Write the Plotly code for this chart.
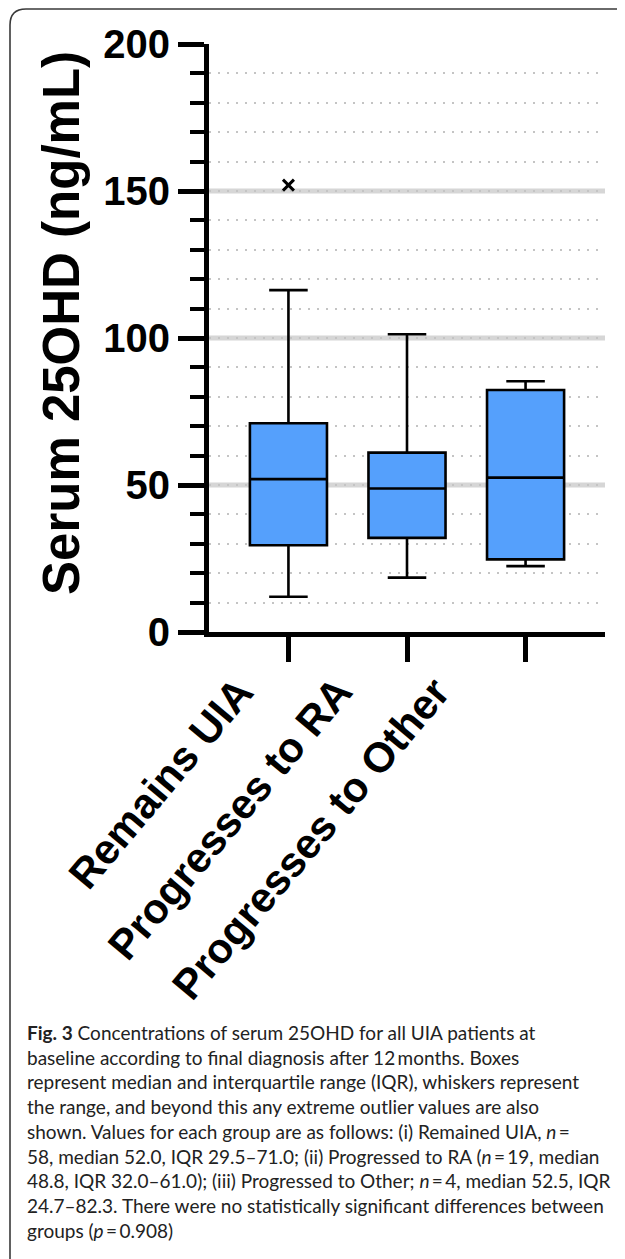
import plotly.graph_objects as go

# ---- data ----
categories = ["Remains UIA", "Progresses to RA", "Progresses to Other"]
q1_vals = [29.5, 32.0, 24.7]
median_vals = [52.0, 48.8, 52.5]
q3_vals = [71.0, 61.0, 82.3]
low_vals = [12.0, 18.5, 22.4]
high_vals = [116.3, 101.3, 85.3]
outlier_cat = ["Remains UIA"]
outlier_vals = [152.0]
major_ticks = [0, 50, 100, 150, 200]
major_grid = [50, 100, 150]

caption_lines = [
    "<b>Fig. 3</b> Concentrations of serum 25OHD for all UIA patients at",
    "baseline according to final diagnosis after 12\u2009months. Boxes",
    "represent median and interquartile range (IQR), whiskers represent",
    "the range, and beyond this any extreme outlier values are also",
    "shown. Values for each group are as follows: (i) Remained UIA, <i>n</i>\u2009=",
    "58, median 52.0, IQR 29.5\u201371.0; (ii) Progressed to RA (<i>n</i>\u2009=\u200919, median",
    "48.8, IQR 32.0\u201361.0); (iii) Progressed to Other; <i>n</i>\u2009=\u20094, median 52.5, IQR",
    "24.7\u201382.3. There were no statistically significant differences between",
    "groups (<i>p</i>\u2009=\u20090.908)",
]

# ---- layout geometry ----
# The page body has an 8px margin, so the figure starts at screen (8, 8).
OFF = 8
W, H = 625 - OFF, 1259 - OFF
# plot area in screen pixels
SL, SR, ST, SB = 209, 605, 44, 632
L, R, T, B = SL - OFF, SR - OFF, ST - OFF, SB - OFF


def px(x):
    """screen x pixel -> paper x"""
    return (x - OFF - L) / (R - L)


def py(y):
    """screen y pixel -> paper y"""
    return (B - (y - OFF)) / (B - T)


fig = go.Figure()

fig.add_trace(go.Box(
    x=categories,
    q1=q1_vals,
    median=median_vals,
    q3=q3_vals,
    lowerfence=low_vals,
    upperfence=high_vals,
    fillcolor="#55A0FC",
    line=dict(color="black", width=2.6),
    width=0.65,
    whiskerwidth=0.5,
    boxpoints=False,
    showlegend=False,
    hoverinfo="skip",
))

fig.add_trace(go.Scatter(
    x=outlier_cat,
    y=outlier_vals,
    mode="markers",
    marker=dict(symbol="x-thin", size=11, color="black",
                line=dict(color="black", width=3)),
    showlegend=False,
    hoverinfo="skip",
))

shapes = []
for g in major_grid:
    shapes.append(dict(type="line", xref="paper", yref="y", x0=0, x1=1,
                       y0=g, y1=g, layer="below",
                       line=dict(color="#D6D6D6", width=5)))

# rounded figure border (screen pixels)
bx0, by0, by1, rad = 10, 9, 1270, 16
path = (f"M {px(640)},{py(by0)} L {px(bx0 + rad)},{py(by0)} "
        f"Q {px(bx0)},{py(by0)} {px(bx0)},{py(by0 + rad)} "
        f"L {px(bx0)},{py(by1)}")
shapes.append(dict(type="path", xref="paper", yref="paper", path=path,
                   line=dict(color="#3a3a3a", width=1.6), layer="above"))

bold = dict(family="Liberation Sans", color="black", weight="bold")

annotations = [
    dict(text="Serum 25OHD (ng/mL)", xref="paper", yref="paper",
         x=px(61), y=py(323), xanchor="center", yanchor="middle",
         textangle=-90, showarrow=False, font=dict(size=51, **bold)),
    dict(text="<br>".join(caption_lines), xref="paper", yref="paper",
         x=px(25), y=py(1019), xanchor="left", yanchor="top", align="left",
         showarrow=False,
         font=dict(family="Lato", size=19, color="#222222")),
]

# rotated category labels, top-right corner placed below the axis
label_shift = [-24, -43, -64]
for cat, sh in zip(categories, label_shift):
    annotations.append(dict(
        text=cat, xref="x", yref="paper", x=cat, y=py(666),
        xanchor="right", yanchor="top", xshift=sh, textangle=-50,
        showarrow=False, font=dict(size=42, **bold)))

fig.update_layout(
    width=W, height=H,
    margin=dict(l=L, r=W - R, t=T, b=H - B, pad=0),
    plot_bgcolor="white", paper_bgcolor="white",
    shapes=shapes, annotations=annotations,
    xaxis=dict(
        type="category", range=[-0.67, 2.67],
        showgrid=False, zeroline=False,
        showline=True, linecolor="black", linewidth=5,
        ticks="outside", ticklen=25, tickwidth=5, tickcolor="black",
        showticklabels=False,
    ),
    yaxis=dict(
        range=[0, 200], tickvals=major_ticks,
        showgrid=False, zeroline=False,
        showline=True, linecolor="black", linewidth=5,
        ticks="outside", ticklen=26, tickwidth=5, tickcolor="black",
        tickfont=dict(size=40, **bold),
        minor=dict(dtick=10, ticks="outside", ticklen=14, tickwidth=4,
                   tickcolor="black", showgrid=True, gridcolor="#C4C4C4",
                   gridwidth=2.2, griddash="2px,7px"),
    ),
)

fig.write_html("out.html")
